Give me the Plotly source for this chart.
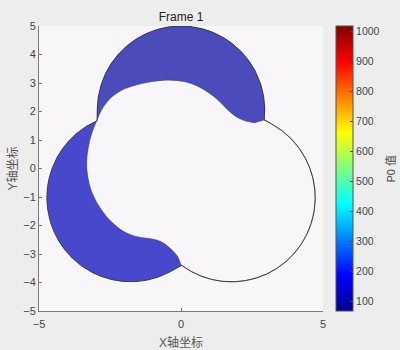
import numpy as np
import plotly.graph_objects as go

# ---- data ----
# three lobes of the domain (circles): centres and radius
lobe_cx = [0.0, -1.775, 1.775]
lobe_cy = [2.05, -1.025, -1.025]
lobe_r = [2.95, 2.95, 2.95]

# boundary of the empty (white) zone,
# from the upper-right cusp anticlockwise round to the lower cusp
inner_x = [2.60, 2.20, 1.88, 1.60, 1.30, 1.00, 0.60, 0.15, -0.40, -1.00, -1.60, -2.10, -2.45,
           -2.72, -2.88, -2.98, -3.15, -3.27, -3.32, -3.28, -3.13, -2.90, -2.62, -2.30, -2.00,
           -1.70, -1.40, -1.10, -0.80, -0.55, -0.30, -0.10]
inner_y = [1.60, 1.69, 1.86, 2.10, 2.40, 2.64, 2.88, 3.04, 3.10, 3.05, 2.92, 2.74, 2.50,
           2.18, 1.88, 1.65, 1.20, 0.70, 0.20, -0.30, -0.85, -1.30, -1.69, -2.00, -2.22,
           -2.35, -2.42, -2.46, -2.53, -2.66, -2.88, -3.12]

# colour bar
cb_min, cb_max = 69, 1019
cb_ticks = [100, 200, 300, 400, 500, 600, 700, 800, 900, 1000]
x_ticks = [-5, 0, 5]
y_ticks = [-5, -4, -3, -2, -1, 0, 1, 2, 3, 4, 5]

# ---- geometry of the domain outline (union of the lobes) ----
theta = np.linspace(0, 2 * np.pi, 2881)
ux, uy = np.cos(theta), np.sin(theta)
rad = np.zeros_like(theta)
for cx, cy, r in zip(lobe_cx, lobe_cy, lobe_r):
    b = cx * ux + cy * uy
    t = b + np.sqrt(b * b - (cx * cx + cy * cy) + r * r)
    rad = np.maximum(rad, t)
ox, oy = rad * ux, rad * uy
deg = np.degrees(theta)

# upper lobe part of the outline
top_mask = (deg >= 30) & (deg <= 150)
top_x = list(ox[top_mask]) + [0.0]
top_y = list(oy[top_mask]) + [0.0]

# right lobe arc (outer edge of the white zone)
m1 = deg >= 270
m2 = deg <= 30
arc_x = list(ox[m1]) + list(ox[m2])
arc_y = list(oy[m1]) + list(oy[m2])

white_x = inner_x + arc_x
white_y = inner_y + arc_y

LEFT_BLUE = "#4848cd"
TOP_BLUE = "#4b4bbb"
BG = "#f9f6f9"
FONT = "Liberation Sans, Noto Sans CJK SC"

jet = [[0.0, "rgb(0,0,143)"], [0.125, "rgb(0,0,255)"], [0.375, "rgb(0,255,255)"],
       [0.625, "rgb(255,255,0)"], [0.875, "rgb(255,0,0)"], [1.0, "rgb(128,0,0)"]]

fig = go.Figure()
fig.add_trace(go.Scatter(x=ox, y=oy, mode="lines", fill="toself", fillcolor=LEFT_BLUE,
                         line=dict(width=0), hoverinfo="skip", showlegend=False))
fig.add_trace(go.Scatter(x=top_x, y=top_y, mode="lines", fill="toself", fillcolor=TOP_BLUE,
                         line=dict(width=0), hoverinfo="skip", showlegend=False))
fig.add_trace(go.Scatter(x=white_x, y=white_y, mode="lines", fill="toself", fillcolor=BG,
                         line=dict(width=0.8, color="rgba(50,50,70,0.55)", shape="spline", smoothing=1.0),
                         hoverinfo="skip", showlegend=False))
fig.add_trace(go.Scatter(x=ox, y=oy, mode="lines", line=dict(width=0.9, color="#333333"),
                         hoverinfo="skip", showlegend=False))
fig.add_trace(go.Scatter(
    x=[0], y=[0], mode="markers",
    marker=dict(size=1, opacity=0, color=[cb_min], cmin=cb_min, cmax=cb_max, colorscale=jet,
                showscale=True,
                colorbar=dict(
                    x=1.0458, xanchor="left", xpad=0, y=0.5, yanchor="middle", len=1, ypad=0,
                    lenmode="fraction", thickness=17, thicknessmode="pixels",
                    outlinewidth=1, outlinecolor="#555555",
                    tickvals=cb_ticks, ticks="inside", ticklen=3, tickcolor="#444444",
                    tickfont=dict(family=FONT, size=10.5, color="#444444"),
                )),
    hoverinfo="skip", showlegend=False))

axis_common = dict(showgrid=False, zeroline=False, showline=True, linecolor="#7a7a7a", linewidth=1,
                   ticks="inside", ticklen=3, tickcolor="#7a7a7a", mirror=False,
                   tickfont=dict(family=FONT, size=11, color="#444444"),
                   automargin=False)
fig.update_xaxes(range=[-5, 5], tickvals=x_ticks, ticklabelstandoff=3, **axis_common,
                 title=dict(text="X轴坐标", standoff=9,
                            font=dict(family=FONT, size=12, color="#555555")))
fig.update_yaxes(range=[-5, 5], tickvals=y_ticks, **axis_common,
                 title=dict(text="Y轴坐标", standoff=3,
                            font=dict(family=FONT, size=12, color="#555555")))

fig.add_annotation(text="P0 值", xref="paper", yref="paper", x=(390 - 39) / 284, y=0.5,
                   xanchor="center", yanchor="middle", textangle=-90, showarrow=False,
                   font=dict(family=FONT, size=11, color="#444444"))

fig.update_layout(
    width=400, height=350,
    margin=dict(l=39, r=77, t=26, b=39, pad=0),
    paper_bgcolor="#ededed", plot_bgcolor=BG,
    title=dict(text="Frame 1", x=0.5, xref="paper", xanchor="center", y=1 - 17 / 350, yanchor="middle",
               font=dict(family=FONT, size=12, color="#222222")),
)

fig.write_html("out.html")
